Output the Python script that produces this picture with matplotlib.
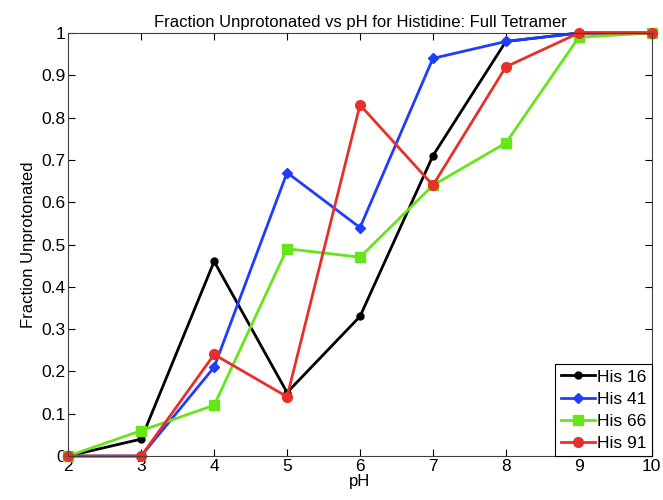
import matplotlib
matplotlib.use('Agg')
import matplotlib.pyplot as plt
from matplotlib.ticker import FormatStrFormatter

plt.rcParams['font.family'] = ['Liberation Sans', 'DejaVu Sans']

# Valores de pH e fracao desprotonada de cada histidina
ph = [2, 3, 4, 5, 6, 7, 8, 9, 10]
his16 = [0, 0.04, 0.46, 0.15, 0.33, 0.71, 0.98, 1.0, 1.0]
his41 = [0, 0, 0.21, 0.67, 0.54, 0.94, 0.98, 1.0, 1.0]
his66 = [0, 0.06, 0.12, 0.49, 0.47, 0.64, 0.74, 0.99, 1.0]
his91 = [0, 0, 0.24, 0.14, 0.83, 0.64, 0.92, 1.0, 1.0]

fig = plt.figure(figsize=(6.63, 5.0), dpi=100)
ax = fig.add_axes([0.103, 0.088, 0.880, 0.846])

ax.plot(ph, his16, color='black', marker='o', markersize=5, linewidth=2, label='His 16', clip_on=False)
ax.plot(ph, his41, color='#1f3cff', marker='D', markersize=5, linewidth=2, label='His 41', clip_on=False)
ax.plot(ph, his66, color='#66e61a', marker='s', markersize=7, linewidth=2, label='His 66', clip_on=False)
ax.plot(ph, his91, color='#e8302a', marker='o', markersize=7, linewidth=2, label='His 91', clip_on=False)

ax.set_xlim(2, 10)
ax.set_ylim(0, 1)
ax.set_xticks(range(2, 11))
ax.set_yticks([i / 10 for i in range(11)])
ax.yaxis.set_major_formatter(FormatStrFormatter('%g'))
ax.tick_params(direction='in', top=True, right=True, labelsize=12.5, length=5, pad=2)
for s in ax.spines.values():
    s.set_color('#404040')

ax.set_title('Fraction Unprotonated vs pH for Histidine: Full Tetramer', fontsize=12, pad=4)
ax.set_xlabel('pH', fontsize=12, labelpad=0)
ax.set_ylabel('Fraction Unprotonated', fontsize=12, labelpad=4)

leg = ax.legend(loc='lower right', fontsize=12.5, fancybox=False, framealpha=1,
                edgecolor='black', borderaxespad=0, handlelength=2.0,
                handletextpad=0.1, borderpad=0.3, labelspacing=0.4)
leg.get_frame().set_linewidth(0.8)
leg.set_zorder(5)

fig.savefig('out.png', dpi=100)
